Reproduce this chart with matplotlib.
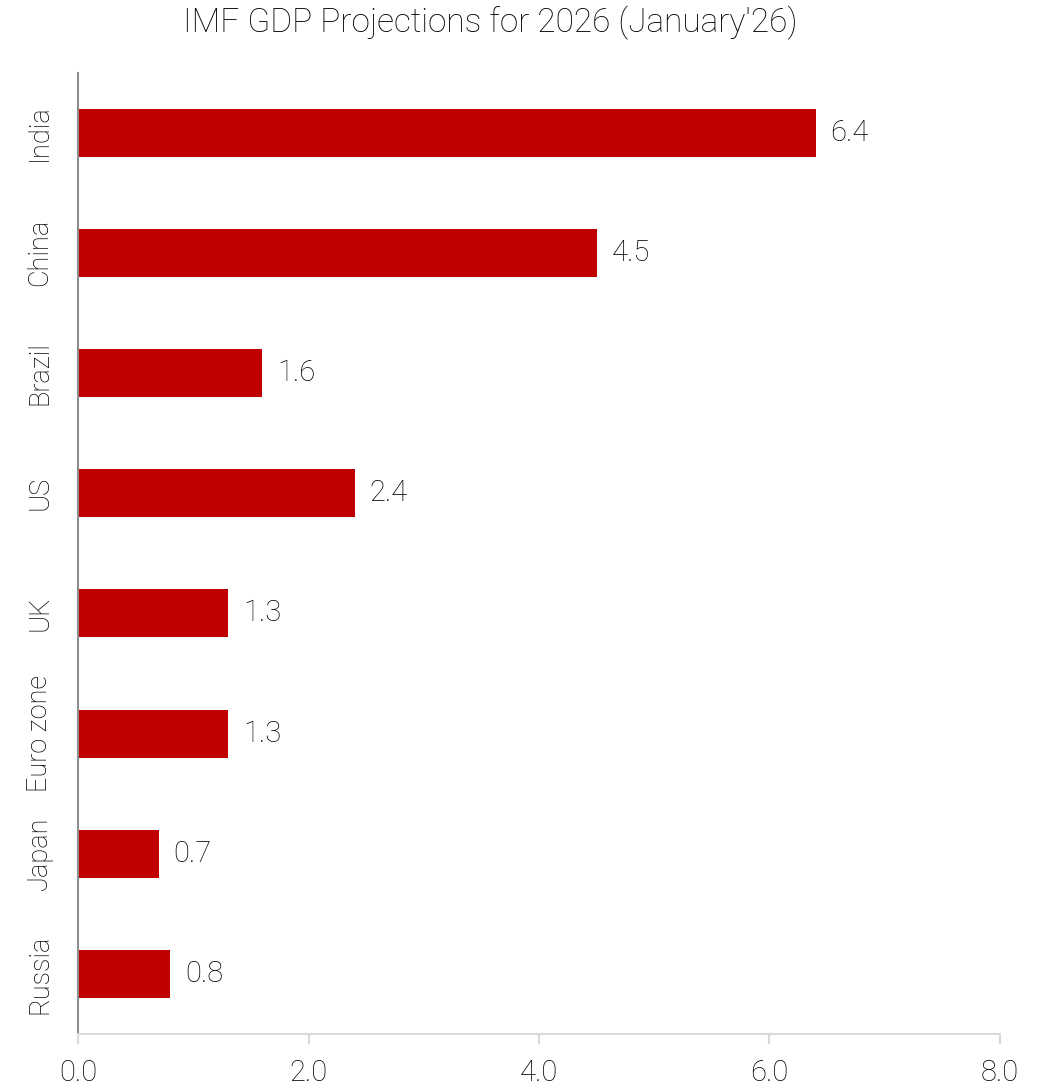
import matplotlib
matplotlib.use("Agg")
import matplotlib.pyplot as plt

countries = ["India", "China", "Brazil", "US", "UK", "Euro zone", "Japan", "Russia"]
gdp = [6.4, 4.5, 1.6, 2.4, 1.3, 1.3, 0.7, 0.8]
xticks = [0, 2, 4, 6, 8]

plt.rcParams['font.family'] = ['Roboto', 'DejaVu Sans']
plt.rcParams['font.weight'] = 'light'

txt = "#000000"

fig = plt.figure(figsize=(10.46, 10.9), dpi=100)
ax = fig.add_axes([0.0746, 0.0514, 0.8814, 0.882])

pos = list(range(len(countries)))
ax.barh(pos, gdp, height=0.4, color="#c00000")
for p, v in zip(pos, gdp):
    ax.text(v + 0.13, p, "{0:.1f}".format(v), va="center", ha="left", fontsize=21,
            color=txt, fontweight="light")

ax.set_ylim(len(countries) - 0.5, -0.5)
ax.set_xlim(0, 8)
ax.set_yticks(pos)
ax.set_yticklabels(countries, rotation=90, va="center", fontsize=19.5, color=txt,
                   fontweight="light")
ax.set_xticks(xticks)
ax.set_xticklabels(["{0:.1f}".format(t) for t in xticks], fontsize=21, color=txt,
                   fontweight="light")

ax.spines['top'].set_visible(False)
ax.spines['right'].set_visible(False)
ax.spines['left'].set_color("#8c8c8c")
ax.spines['left'].set_linewidth(1.5)
ax.spines['bottom'].set_color("#d9d9d9")
ax.spines['bottom'].set_linewidth(1.5)
ax.tick_params(axis='y', length=0, pad=18)
ax.tick_params(axis='x', length=7, width=1.5, color="#d9d9d9", pad=11)

fig.text(0.469, 0.979, "IMF GDP Projections for 2026 (January'26)", ha="center", va="center",
         fontsize=24, color=txt, fontweight="light")

fig.savefig("out.png", dpi=100)
